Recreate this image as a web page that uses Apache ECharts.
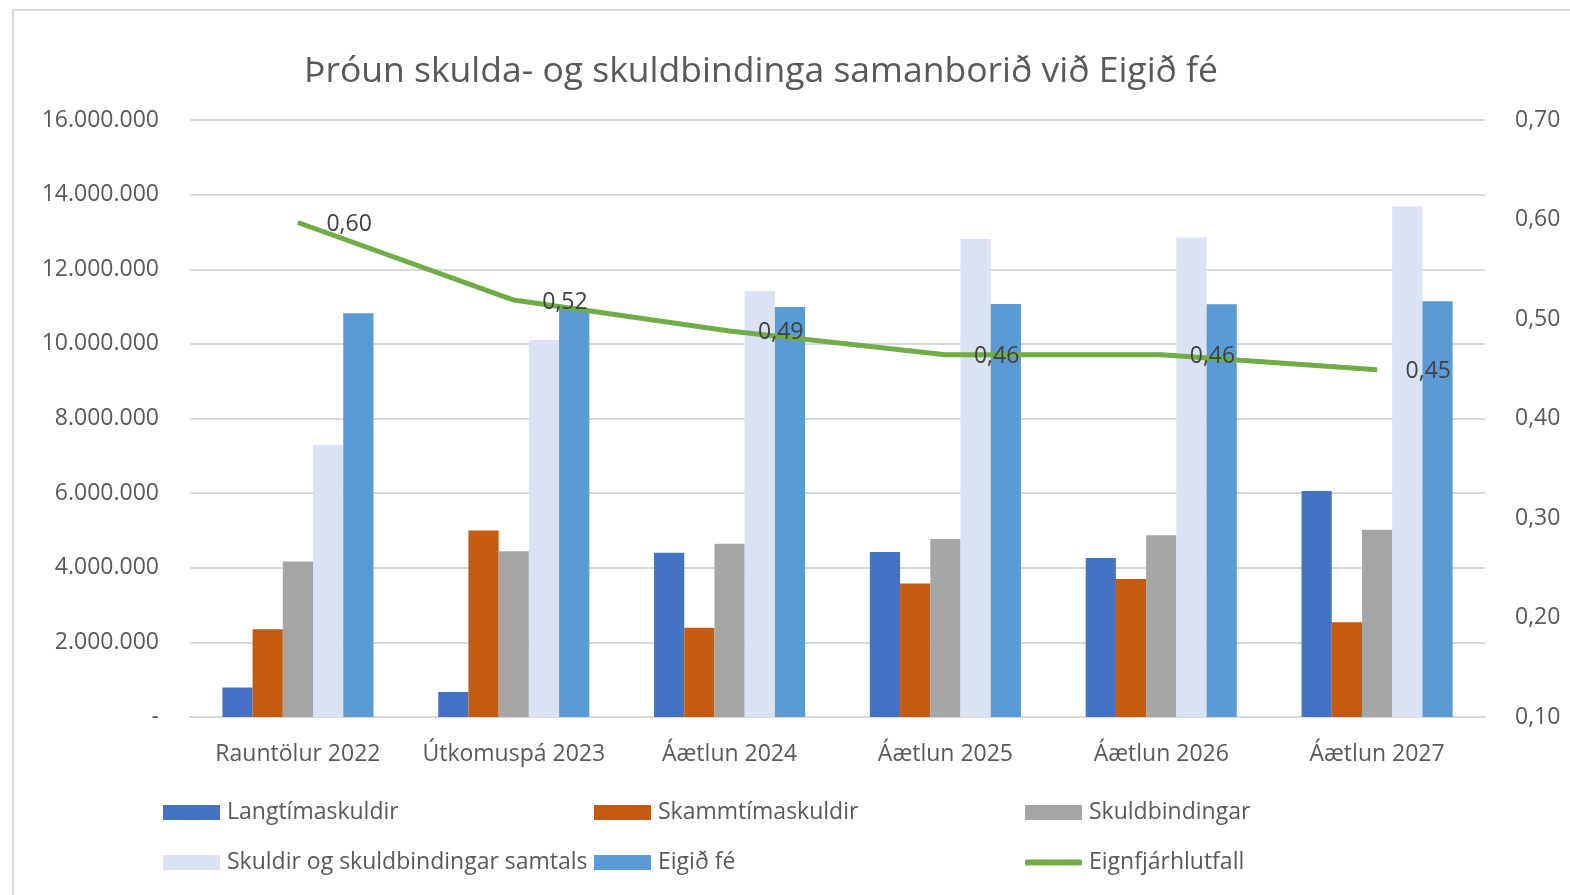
<!DOCTYPE html>
<html>
<head>
<meta charset="utf-8">
<script src="https://cdn.jsdelivr.net/npm/echarts@6/dist/echarts.min.js"></script>
<style>
html, body { margin: 0; padding: 0; background: #fff; }
#chart { width: 1570px; height: 895px; }
</style>
</head>
<body>
<div id="chart"></div>
<script>
const categories = ['Rauntölur 2022', 'Útkomuspá 2023', 'Áætlun 2024', 'Áætlun 2025', 'Áætlun 2026', 'Áætlun 2027']
const langtima = [790000, 670000, 4400000, 4420000, 4260000, 6060000]
const skammtima = [2350000, 5000000, 2390000, 3580000, 3700000, 2540000]
const skuldbindingar = [4170000, 4440000, 4640000, 4770000, 4870000, 5020000]
const samtals = [7290000, 10110000, 11410000, 12810000, 12850000, 13690000]
const eigidFe = [10820000, 10940000, 10990000, 11070000, 11060000, 11140000]
const hlutfall = [0.597, 0.519, 0.488, 0.464, 0.464, 0.449]
const leftTicks = [0, 2000000, 4000000, 6000000, 8000000, 10000000, 12000000, 14000000, 16000000]
const rightTicks = [0.1, 0.2, 0.3, 0.4, 0.5, 0.6, 0.7]

const FONT = 'Open Sans'
const TEXT = '#595959'
const FS = 23

const chart = echarts.init(document.getElementById('chart'))

function fmtThousands (v) {
  if (v === 0) return '-'
  return String(Math.round(v)).replace(/\B(?=(\d{3})+(?!\d))/g, '.')
}

function legendItem (name, left, top, icon, h) {
  return {
    data: [name],
    left: left,
    top: top,
    icon: icon || 'rect',
    itemWidth: 57,
    itemHeight: h || 15,
    itemGap: 0,
    textStyle: { color: TEXT, fontFamily: FONT, fontSize: FS, padding: [0, 0, 0, 2] },
    selectedMode: false
  }
}

function barSeries (name, data, color) {
  return { name: name, type: 'bar', data: data, itemStyle: { color: color }, barGap: '0%', barCategoryGap: '30%' }
}

chart.setOption({
  backgroundColor: '#fff',
  animation: false,
  textStyle: { fontFamily: FONT },
  graphic: [{
    type: 'rect',
    shape: { x: 13, y: 10, width: 1600, height: 900 },
    style: { fill: 'none', stroke: '#d9d9d9', lineWidth: 2 },
    silent: true
  }],
  title: {
    text: 'Þróun skulda- og skuldbindinga samanborið við Eigið fé',
    left: 756,
    textAlign: 'center',
    top: 49,
    textStyle: { color: TEXT, fontFamily: FONT, fontSize: 35.5, fontWeight: 'normal' }
  },
  legend: [
    legendItem('Langtímaskuldir', 158, 796),
    legendItem('Skammtímaskuldir', 589, 796),
    legendItem('Skuldbindingar', 1020, 796),
    legendItem('Skuldir og skuldbindingar samtals', 158, 846),
    legendItem('Eigið fé', 589, 846),
    legendItem('Eignfjárhlutfall', 1020, 846, 'roundRect', 6)
  ],
  grid: { left: 190, right: 85, top: 120, bottom: 178 },
  xAxis: {
    type: 'category',
    data: categories,
    axisLine: { lineStyle: { color: '#d9d9d9', width: 2 } },
    axisTick: { show: false },
    axisLabel: { color: TEXT, fontFamily: FONT, fontSize: FS, margin: 26, interval: 0 }
  },
  yAxis: [
    {
      type: 'value',
      min: leftTicks[0],
      max: leftTicks[leftTicks.length - 1],
      interval: 2000000,
      axisLine: { show: false },
      axisTick: { show: false },
      splitLine: { lineStyle: { color: '#d9d9d9', width: 2 } },
      axisLabel: { color: TEXT, fontFamily: FONT, fontSize: FS, margin: 31, formatter: fmtThousands }
    },
    {
      type: 'value',
      min: rightTicks[0],
      max: rightTicks[rightTicks.length - 1],
      interval: 0.1,
      axisLine: { show: false },
      axisTick: { show: false },
      splitLine: { show: false },
      axisLabel: {
        color: TEXT, fontFamily: FONT, fontSize: FS, margin: 30,
        formatter: v => v.toFixed(2).replace('.', ',')
      }
    }
  ],
  series: [
    barSeries('Langtímaskuldir', langtima, '#4472C4'),
    barSeries('Skammtímaskuldir', skammtima, '#C55A11'),
    barSeries('Skuldbindingar', skuldbindingar, '#A5A5A5'),
    barSeries('Skuldir og skuldbindingar samtals', samtals, '#DAE3F3'),
    barSeries('Eigið fé', eigidFe, '#5B9BD5'),
    {
      name: 'Eignfjárhlutfall',
      type: 'line',
      yAxisIndex: 1,
      data: hlutfall,
      symbol: 'circle',
      symbolSize: 1,
      itemStyle: { color: '#70AD47' },
      lineStyle: { color: '#70AD47', width: 5 },
      label: {
        show: true,
        position: 'right',
        distance: 28,
        offset: [0, 2],
        color: '#404040',
        fontFamily: FONT,
        fontSize: FS,
        formatter: p => p.value.toFixed(2).replace('.', ',')
      },
      z: 5
    }
  ]
})
</script>
</body>
</html>
